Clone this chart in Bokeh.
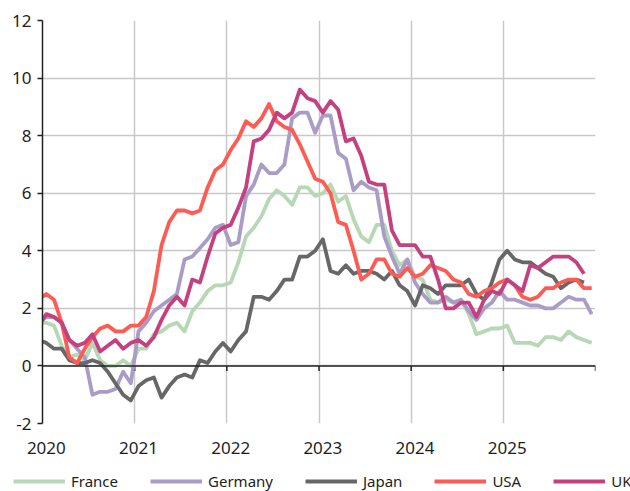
from bokeh.plotting import figure
from bokeh.layouts import column
from bokeh.models import Range1d, FixedTicker, Span, Legend, LegendItem
from bokeh.embed import file_html
from bokeh.resources import INLINE

NaN = float("nan")

# month index: -1 = Dec 2019, 0 = Jan 2020 ... 71 = Dec 2025
months = list(range(-1, 72))

france = [1.5,
          1.5, 1.4, 0.7, 0.3, 0.4, 0.2, 0.8, 0.2, 0.0, 0.0, 0.2, 0.0,
          0.6, 0.6, 1.1, 1.2, 1.4, 1.5, 1.2, 1.9, 2.2, 2.6, 2.8, 2.8,
          2.9, 3.6, 4.5, 4.8, 5.2, 5.8, 6.1, 5.9, 5.6, 6.2, 6.2, 5.9,
          6.0, 6.3, 5.7, 5.9, 5.1, 4.5, 4.3, 4.9, 4.9, 4.0, 3.5, 3.7,
          3.1, 3.0, 2.3, 2.2, 2.3, 2.2, 2.3, 1.8, 1.1, 1.2, 1.3, 1.3,
          1.4, 0.8, 0.8, 0.8, 0.7, 1.0, 1.0, 0.9, 1.2, 1.0, 0.9, 0.8]

germany = [1.5,
           1.7, 1.7, 1.5, 0.9, 0.6, 0.3, -1.0, -0.9, -0.9, -0.8, -0.2, -0.6,
           1.2, 1.5, 1.9, 2.1, 2.3, 2.5, 3.7, 3.8, 4.1, 4.4, 4.8, 4.9,
           4.2, 4.3, 5.9, 6.3, 7.0, 6.7, 6.7, 7.0, 8.6, 8.8, 8.8, 8.1,
           8.7, 8.7, 7.4, 7.2, 6.1, 6.4, 6.2, 6.1, 4.5, 3.8, 3.2, 3.7,
           2.9, 2.5, 2.2, 2.2, 2.4, 2.2, 2.3, 1.9, 1.6, 2.0, 2.2, 2.6,
           2.3, 2.3, 2.2, 2.1, 2.1, 2.0, 2.0, 2.2, 2.4, 2.3, 2.3, 1.8]

japan = [0.9,
         0.8, 0.6, 0.6, 0.2, 0.1, 0.1, 0.2, 0.1, -0.2, -0.6, -1.0, -1.2,
         -0.7, -0.5, -0.4, -1.1, -0.7, -0.4, -0.3, -0.4, 0.2, 0.1, 0.5, 0.8,
         0.5, 0.9, 1.2, 2.4, 2.4, 2.3, 2.6, 3.0, 3.0, 3.8, 3.8, 4.0,
         4.4, 3.3, 3.2, 3.5, 3.2, 3.3, 3.3, 3.2, 3.0, 3.3, 2.8, 2.6,
         2.1, 2.8, 2.7, 2.5, 2.8, 2.8, 2.8, 3.0, 2.5, 2.3, 2.9, 3.7,
         4.0, 3.7, 3.6, 3.6, 3.4, 3.2, 3.1, 2.7, 2.9, 3.0, 2.9, NaN]

usa = [2.3,
       2.5, 2.3, 1.5, 0.3, 0.1, 0.6, 1.0, 1.3, 1.4, 1.2, 1.2, 1.4,
       1.4, 1.7, 2.6, 4.2, 5.0, 5.4, 5.4, 5.3, 5.4, 6.2, 6.8, 7.0,
       7.5, 7.9, 8.5, 8.3, 8.6, 9.1, 8.5, 8.3, 8.2, 7.7, 7.1, 6.5,
       6.4, 6.0, 5.0, 4.9, 4.0, 3.0, 3.2, 3.7, 3.7, 3.2, 3.1, 3.4,
       3.1, 3.2, 3.5, 3.4, 3.3, 3.0, 2.9, 2.5, 2.4, 2.6, 2.7, 2.9,
       3.0, 2.8, 2.4, 2.3, 2.4, 2.7, 2.7, 2.9, 3.0, 3.0, 2.7, 2.7]

uk = [1.4,
      1.8, 1.7, 1.5, 0.9, 0.7, 0.8, 1.1, 0.5, 0.7, 0.9, 0.6, 0.8,
      0.9, 0.7, 1.0, 1.6, 2.1, 2.4, 2.1, 3.0, 2.9, 3.8, 4.6, 4.8,
      4.9, 5.5, 6.2, 7.8, 7.9, 8.2, 8.8, 8.6, 8.8, 9.6, 9.3, 9.2,
      8.8, 9.2, 8.9, 7.8, 7.9, 7.3, 6.4, 6.3, 6.3, 4.7, 4.2, 4.2,
      4.2, 3.8, 3.8, 3.0, 2.0, 2.0, 2.2, 2.2, 1.7, 2.3, 2.6, 2.5,
      3.0, 2.8, 2.6, 3.5, 3.4, 3.6, 3.8, 3.8, 3.8, 3.6, 3.2, NaN]

year_labels = ["2020", "2021", "2022", "2023", "2024", "2025"]
year_starts = [0, 12, 24, 36, 48, 60]
year_bounds = [-0.5, 11.5, 23.5, 35.5, 47.5, 59.5, 71.5]
y_ticks = [-2, 0, 2, 4, 6, 8, 10, 12]
y_labels = ["-2", "0", "2", "4", "6", "8", "10", "12"]

series = [("France", france, "#b6d8b5"),
          ("Germany", germany, "#a99cc7"),
          ("Japan", japan, "#676767"),
          ("USA", usa, "#ff5b55"),
          ("UK", uk, "#c5407f")]

FONT = "Noto Sans"
TXT = "#1e1e1e"
LW = 3.8

p = figure(width=630, height=458,
           x_range=Range1d(-0.5, 71.5), y_range=Range1d(-2, 12),
           output_backend="svg", toolbar_location=None,
           min_border_left=42, min_border_right=35,
           min_border_top=20, min_border_bottom=35)
p.outline_line_color = None
p.frame_align = False

# grids
p.xgrid.ticker = FixedTicker(ticks=year_bounds)
p.xgrid.grid_line_color = "#c8c8c8"
p.xgrid.grid_line_width = 1.5
p.ygrid.ticker = FixedTicker(ticks=y_ticks)
p.ygrid.grid_line_color = "#c8c8c8"
p.ygrid.grid_line_width = 1.5

# x axis: labels only (axis line drawn at zero)
xa = p.xaxis[0]
xa.ticker = FixedTicker(ticks=year_starts)
xa.major_label_overrides = {t: l for t, l in zip(year_starts, year_labels)}
xa.axis_line_color = None
xa.major_tick_line_color = None
xa.minor_tick_line_color = None
xa.major_label_standoff = 12
xa.major_label_text_font = FONT
xa.major_label_text_font_size = "17px"
xa.major_label_text_color = TXT

# y axis
ya = p.yaxis[0]
ya.ticker = FixedTicker(ticks=y_ticks)
ya.major_label_overrides = {t: l for t, l in zip(y_ticks, y_labels)}
ya.axis_line_color = "#222222"
ya.axis_line_width = 1.5
ya.major_tick_line_color = "#222222"
ya.major_tick_line_width = 1.5
ya.major_tick_out = 5
ya.major_tick_in = 0
ya.minor_tick_line_color = None
ya.major_label_standoff = 6
ya.major_label_text_font = FONT
ya.major_label_text_font_size = "17px"
ya.major_label_text_color = TXT

# zero line with year ticks
p.add_layout(Span(location=0, dimension="width", line_color="#222222", line_width=1.5))
tick_x = year_bounds[1:]
p.segment(x0=tick_x, y0=[0] * len(tick_x), x1=tick_x, y1=[-0.18] * len(tick_x),
          line_color="#222222", line_width=1.5)

for name, vals, col in series:
    p.line(months, vals, line_color=col, line_width=LW, line_join="round")

# legend strip below the chart (its own lines lie outside its visible range)
lf = figure(width=630, height=33, x_range=Range1d(-0.5, 71.5), y_range=Range1d(100, 101),
            x_axis_location=None, y_axis_location=None,
            output_backend="svg", toolbar_location=None, min_border=0)
lf.frame_align = False
lf.grid.visible = False
lf.outline_line_color = None
items = []
for name, vals, col in series:
    r = lf.line(months, vals, line_color=col, line_width=LW)
    items.append(LegendItem(label=name, renderers=[r]))
legend = Legend(items=items, orientation="horizontal", location=(13, 0),
                glyph_width=52, glyph_height=16, label_height=16,
                label_standoff=6, spacing=32,
                padding=0, margin=0, border_line_alpha=0, background_fill_alpha=0,
                label_text_font=FONT, label_text_font_size="15px",
                label_text_color=TXT)
lf.add_layout(legend)

layout = column(p, lf, spacing=0)
open("out.html", "w").write(file_html(layout, INLINE))
